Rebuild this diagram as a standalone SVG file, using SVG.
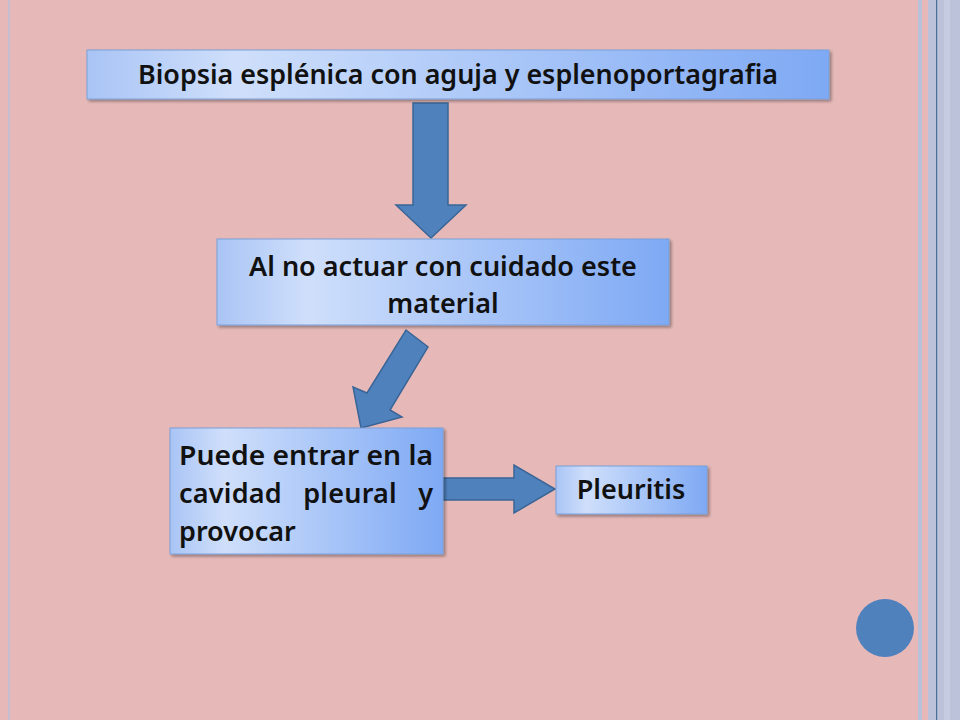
<svg xmlns="http://www.w3.org/2000/svg" width="960" height="720" viewBox="0 0 960 720">
<defs>
<linearGradient id="g" x1="0" y1="0" x2="1" y2="0">
<stop offset="0" stop-color="#a9c4f5"/><stop offset="0.2" stop-color="#cfdffb"/><stop offset="1" stop-color="#7ea9f4"/>
</linearGradient>
<filter id="s" x="-5%" y="-10%" width="110%" height="130%"><feDropShadow dx="2" dy="2" stdDeviation="1.5" flood-opacity="0.35"/></filter>
</defs>
<style>
.box{fill:url(#g);stroke:#7a9fd8;stroke-width:1;filter:url(#s)}
.arr{fill:#4f81bd;stroke:#3a6597;stroke-width:1.5}
text{font-family:"Noto Sans","Liberation Sans",sans-serif;font-size:27px;fill:#111;font-weight:600}
</style>
<rect width="960" height="720" fill="#e6b9b8"/>
<rect x="8" y="0" width="2" height="720" fill="#c6bdd0"/>
<rect x="918" y="0" width="4" height="720" fill="#b8c1da"/>
<rect x="928" y="0" width="32" height="720" fill="#bbc2da"/>
<rect x="936" y="0" width="1.2" height="720" fill="#4a6f9a"/>
<rect x="944" y="0" width="6" height="720" fill="#c6cce2"/>
<g id="connectors">
<polygon class="arr" points="413,103 448,103 448,205 466,205 431,238 396,205 413,205"/>
<polygon class="arr" points="406,330 428,347 390,410 402,417 361,428 353,387 367,393"/>
<polygon class="arr" points="443,478 514,478 514,465 555,489 514,513 514,500 443,500"/>
</g>
<g id="n1"><rect class="box" x="87" y="50" width="742" height="49"/><text x="458" y="84" text-anchor="middle" textLength="640" lengthAdjust="spacingAndGlyphs">Biopsia esplénica con aguja y esplenoportagrafia</text></g>
<g id="n2"><rect class="box" x="217" y="239" width="452" height="86"/><text x="443" y="276" text-anchor="middle">Al no actuar con cuidado este</text><text x="443" y="313" text-anchor="middle">material</text></g>
<g id="n3"><rect class="box" x="170" y="428" width="273" height="126"/>
<text x="179" y="465" textLength="254" lengthAdjust="spacingAndGlyphs">Puede entrar en la</text>
<text x="179" y="503" textLength="254" lengthAdjust="spacing" word-spacing="14">cavidad pleural y</text>
<text x="179" y="541">provocar</text></g>
<g id="n4"><rect class="box" x="556" y="466" width="151" height="48"/><text x="631" y="499" text-anchor="middle">Pleuritis</text></g>
<circle cx="885" cy="628" r="29" fill="#4f81bd"/>
</svg>
